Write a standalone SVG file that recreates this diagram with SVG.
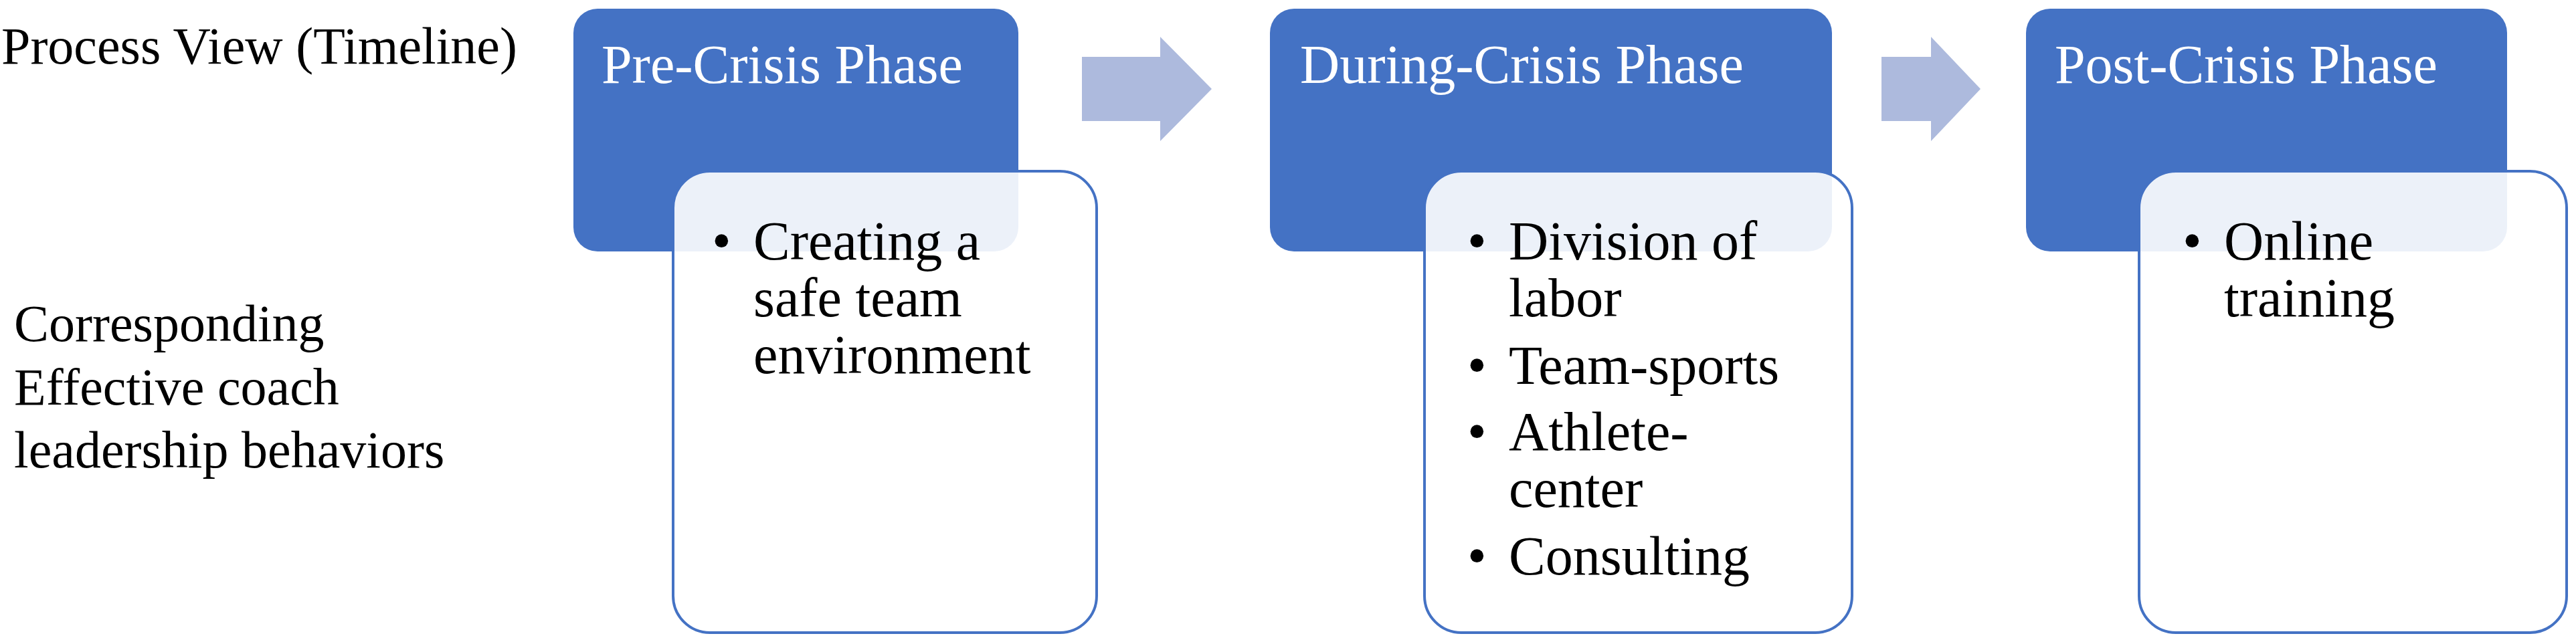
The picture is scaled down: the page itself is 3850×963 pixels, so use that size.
<svg xmlns="http://www.w3.org/2000/svg" width="3850" height="963" viewBox="0 0 3850 963">
<style>
.lbl{font-family:"Liberation Serif","Times New Roman",serif;font-size:78px;fill:#000}
.head{font-family:"Liberation Serif","Times New Roman",serif;font-size:82px;fill:#fff}
.body{font-family:"Liberation Serif","Times New Roman",serif;font-size:82px;fill:#000}
.phase{fill:#4472C4}
.card{fill:#fff;fill-opacity:0.9;stroke:#4472C4;stroke-width:4}
.arrow{fill:#ADBADD}
</style>
<rect width="3850" height="963" fill="#fff"/>
<g id="labels">
<text class="lbl" x="2" y="95">Process View (Timeline)</text>
<text class="lbl" x="21" y="510">Corresponding</text>
<text class="lbl" x="21" y="605">Effective coach</text>
<text class="lbl" x="21" y="699">leadership behaviors</text>
</g>
<g id="connectors">
<polygon class="arrow" points="1617,85 1734,85 1734,55 1811,133 1734,211 1734,181 1617,181"/>
<polygon class="arrow" points="2812,85 2886,85 2886,55 2960,133 2886,211 2886,181 2812,181"/>
</g>
<g id="pre-crisis">
<rect class="phase" x="857" y="13" width="665" height="363" rx="36" ry="36"/>
<text class="head" x="899" y="124">Pre-Crisis Phase</text>
<rect class="card" x="1006" y="256" width="633" height="690" rx="55" ry="55"/>
<text class="body" x="1064" y="388">•</text>
<text class="body" x="1126" y="388">Creating a</text>
<text class="body" x="1126" y="473">safe team</text>
<text class="body" x="1126" y="558">environment</text>
</g>
<g id="during-crisis">
<rect class="phase" x="1898" y="13" width="840" height="363" rx="36" ry="36"/>
<text class="head" x="1943" y="124">During-Crisis Phase</text>
<rect class="card" x="2129" y="256" width="639" height="690" rx="55" ry="55"/>
<text class="body" x="2193" y="388">•</text>
<text class="body" x="2255" y="388">Division of</text>
<text class="body" x="2255" y="473">labor</text>
<text class="body" x="2193" y="574">•</text>
<text class="body" x="2255" y="574">Team-sports</text>
<text class="body" x="2193" y="673">•</text>
<text class="body" x="2255" y="673">Athlete-</text>
<text class="body" x="2255" y="758">center</text>
<text class="body" x="2193" y="859">•</text>
<text class="body" x="2255" y="859">Consulting</text>
</g>
<g id="post-crisis">
<rect class="phase" x="3028" y="13" width="719" height="363" rx="36" ry="36"/>
<text class="head" x="3071" y="124">Post-Crisis Phase</text>
<rect class="card" x="3197" y="256" width="639" height="690" rx="55" ry="55"/>
<text class="body" x="3262" y="388">•</text>
<text class="body" x="3324" y="388">Online</text>
<text class="body" x="3324" y="473">training</text>
</g>
</svg>
